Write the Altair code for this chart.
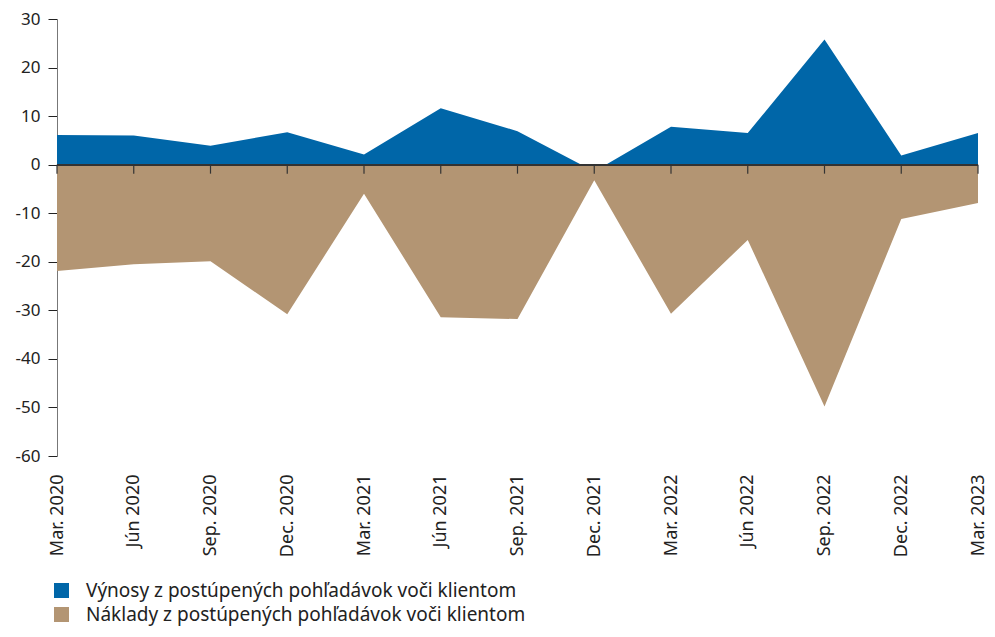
import altair as alt
import pandas as pd

quarters = ["Mar. 2020", "Jún 2020", "Sep. 2020", "Dec. 2020", "Mar. 2021", "Jún 2021",
            "Sep. 2021", "Dec. 2021", "Mar. 2022", "Jún 2022", "Sep. 2022", "Dec. 2022", "Mar. 2023"]
vynosy = [6.1, 6.0, 3.9, 6.7, 2.1, 11.6, 6.9, -1.4, 7.8, 6.5, 25.8, 1.9, 6.5]
naklady = [-21.9, -20.5, -19.9, -30.8, -6.0, -31.4, -31.8, -3.2, -30.7, -15.5, -49.8, -11.2, -7.9]
series_names = ["Výnosy z postúpených pohľadávok voči klientom",
                "Náklady z postúpených pohľadávok voči klientom"]
colors = ["#0066a8", "#b39573"]
y_ticks = [30, 20, 10, 0, -10, -20, -30, -40, -50, -60]

df_v = pd.DataFrame({"q": quarters, "value": vynosy, "series": series_names[0]})
df_n = pd.DataFrame({"q": quarters, "value": naklady, "series": series_names[1]})
df_q = pd.DataFrame({"q": quarters})

FONT = "Noto Sans"
W, H = 921, 437

x_enc = alt.X("q:O", sort=quarters, scale=alt.Scale(type="point", padding=0),
              axis=alt.Axis(title=None, labelAngle=-90, domain=False, ticks=False,
                            labelPadding=18, labelFontSize=18, labelColor="#222",
                            labelFont=FONT))
y_enc = alt.Y("value:Q", stack=None, scale=alt.Scale(domain=[-60, 30], nice=False, zero=True),
              axis=alt.Axis(title=None, values=y_ticks, grid=False, domainColor="#777",
                            tickColor="#222", tickSize=9, labelPadding=8,
                            labelFontSize=17, labelColor="#222", labelFont=FONT,
                            labelExpr="'' + datum.value"))
color_enc = alt.Color("series:N", scale=alt.Scale(domain=series_names, range=colors),
                      legend=alt.Legend(title=None, orient="none", legendX=-5, legendY=562,
                                        direction="vertical", symbolType="square",
                                        symbolSize=225, symbolStrokeWidth=0,
                                        labelFontSize=19, labelFont=FONT,
                                        labelColor="#222", labelOffset=15,
                                        rowPadding=4, labelLimit=800))

area_v = alt.Chart(df_v).mark_area(opacity=1).encode(x=x_enc, y=y_enc, color=color_enc)
area_n = alt.Chart(df_n).mark_area(opacity=1).encode(x=x_enc, y=y_enc, color=color_enc)

zero = alt.Chart(df_q).mark_rule(color="#333", strokeWidth=1.5).encode(
    x=alt.value(0), x2=alt.value(W), y=alt.datum(0))
ticks = alt.Chart(df_q).mark_rule(color="#333", strokeWidth=1.2, y2Offset=9).encode(
    x=alt.X("q:O", sort=quarters), y=alt.datum(0), y2=alt.datum(0))

chart = alt.layer(area_v, area_n, zero, ticks).properties(
    width=W, height=H,
    autosize=alt.AutoSizeParams(type="none"),
    padding={"left": 49, "top": 11, "right": 979 - 49 - W, "bottom": 621 - 11 - H},
).configure(font=FONT).configure_view(stroke=None)

chart.save("out.html", embed_options={"renderer": "svg", "actions": False})
